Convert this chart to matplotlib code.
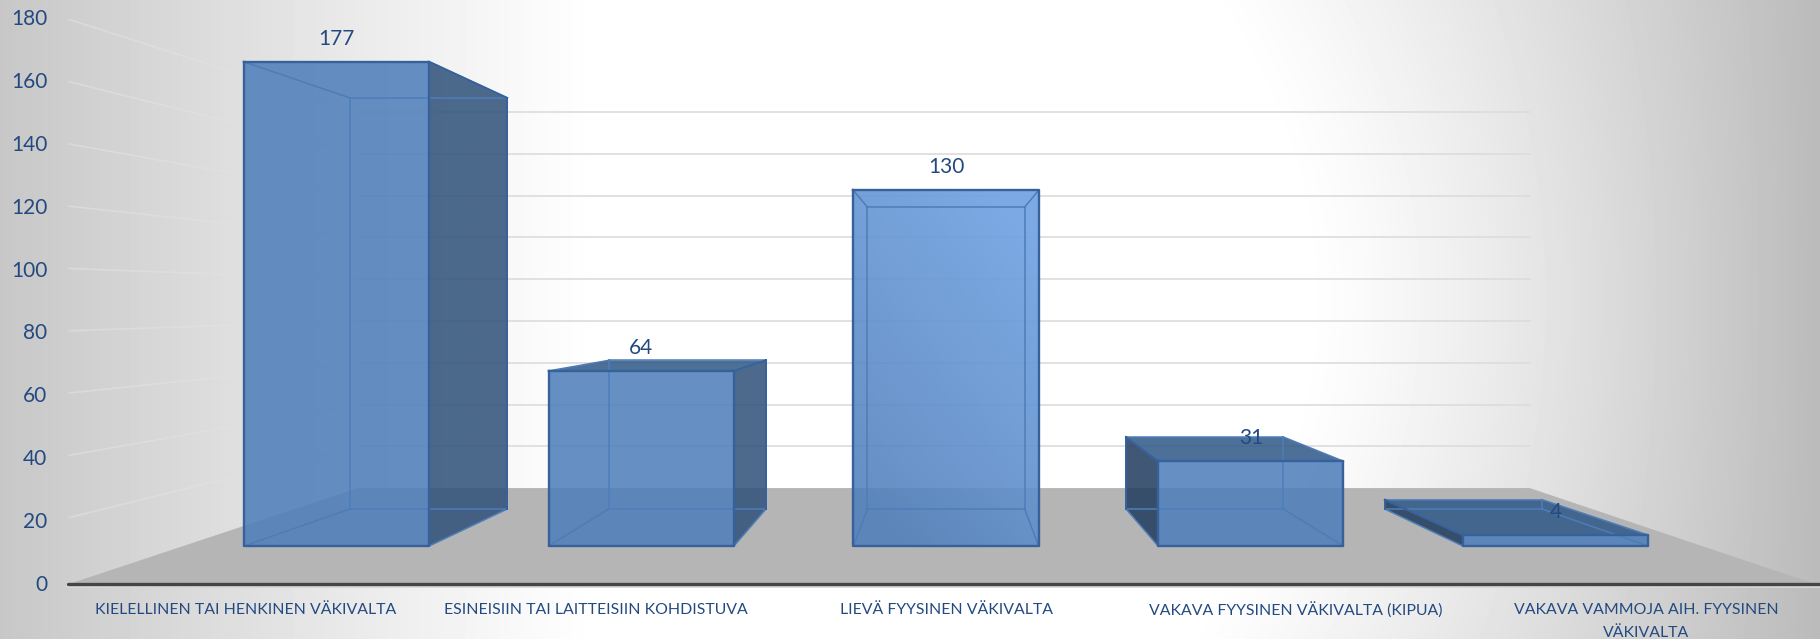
import numpy as np
import matplotlib
matplotlib.use('Agg')
import matplotlib.pyplot as plt
from matplotlib.patches import Polygon

categories = ['KIELELLINEN TAI HENKINEN VÄKIVALTA',
              'ESINEISIIN TAI LAITTEISIIN KOHDISTUVA',
              'LIEVÄ FYYSINEN VÄKIVALTA',
              'VAKAVA FYYSINEN VÄKIVALTA (KIPUA)',
              'VAKAVA VAMMOJA AIH. FYYSINEN\nVÄKIVALTA']
values = [177, 64, 130, 31, 4]
y_ticks = [0, 20, 40, 60, 80, 100, 120, 140, 160, 180]

# perspective setup, all in pixels of the picture
W, H = 1820, 639
VX, VY = 946, 301          # vanishing point
FLOOR_Y = 584
PX_PER_UNIT = 3.16
CAT_STEP = 352
LABEL_STEP = 350
BAR_WIDTH = 214 / 352
S_CHART_BACK = 0.661
S_BAR_FRONT, S_BAR_BACK = 0.866, 0.735

TEXT = '#234a80'
EDGE = '#36619a'
INNER = '#4d7db9'
FRONT = '#4f7fbb'
SIDE = '#32547b'
TOP_DARK = '#325b8a'
LEFT_DARK = '#243f60'
ALPHA = 0.87


def project(cat, value, s):
    wx = VX + (cat - 2) * CAT_STEP
    wy = FLOOR_Y - value * PX_PER_UNIT
    return VX + (wx - VX) * s, VY + (wy - VY) * s


def background():
    yy, xx = np.mgrid[0:H, 0:W]
    left = 0.22 * np.clip((600 - xx) / 600.0, 0, 1) ** 1.1
    edge = 1300 - 0.0011 * (yy - 300.0) ** 2
    right = 0.27 * np.clip((xx - edge) / (W - edge), 0, 1) ** 1.25
    return 1 - left - right


plt.rcParams['font.family'] = ['Lato', 'DejaVu Sans']
fig = plt.figure(figsize=(W / 100, H / 100), dpi=100)
ax = fig.add_axes([0, 0, 1, 1])
ax.set_xlim(0, W)
ax.set_ylim(H, 0)
ax.axis('off')
ax.imshow(background(), cmap='gray', vmin=0, vmax=1, extent=(0, W, H, 0),
          aspect='auto', zorder=0)

# floor
cl_back = 2 - 890 / CAT_STEP
cr_back = 2 + 883 / CAT_STEP
floor = [project(2 - 877 / CAT_STEP, 0, 1), project(2 + 869 / CAT_STEP, 0, 1),
         project(cr_back, 0, S_CHART_BACK), project(cl_back, 0, S_CHART_BACK)]
ax.add_patch(Polygon(floor, closed=True, fc='#b5b5b5', ec='none', zorder=1))

# gridlines, back wall and left wall
for t in y_ticks[1:]:
    x0, y0 = project(cl_back, t, S_CHART_BACK)
    x1, y1 = project(cr_back, t, S_CHART_BACK)
    ax.plot([x0, x1], [y0, y1], color='#dcdcdc', lw=1.2, zorder=2)
    x2, y2 = project(cl_back, t, 0.985)
    ax.plot([x0, x2], [y0, y2], color='#e2e2e2', lw=1.2, alpha=0.6, zorder=2)

ax.plot([68, W], [FLOOR_Y + 1, FLOOR_Y + 1], color='#d8d8d8', lw=3.4,
        solid_capstyle='round', zorder=3)
ax.plot([68, W], [FLOOR_Y - 0.5, FLOOR_Y - 0.5], color='#454545', lw=2.4,
        solid_capstyle='round', zorder=3)

# bars
for i, val in enumerate(values):
    c0, c1 = i - BAR_WIDTH / 2, i + BAR_WIDTH / 2
    fbl, fbr = project(c0, 0, S_BAR_FRONT), project(c1, 0, S_BAR_FRONT)
    ftl, ftr = project(c0, val, S_BAR_FRONT), project(c1, val, S_BAR_FRONT)
    bbl, bbr = project(c0, 0, S_BAR_BACK), project(c1, 0, S_BAR_BACK)
    btl, btr = project(c0, val, S_BAR_BACK), project(c1, val, S_BAR_BACK)

    # side that can be seen depends on which side of the vanishing point we are
    if fbr[0] < VX:
        side = [fbr, ftr, btr, bbr]
        side_color = SIDE
    elif fbl[0] > VX:
        side = [fbl, ftl, btl, bbl]
        side_color = LEFT_DARK
    else:
        side = None

    # a top above the horizon is seen from below, inside the front face
    if ftl[1] >= VY:
        ax.add_patch(Polygon([ftl, ftr, btr, btl], closed=True, fc=TOP_DARK,
                             ec='none', alpha=ALPHA, zorder=4))
    if side is not None:
        ax.add_patch(Polygon(side, closed=True, fc=side_color, ec='none',
                             alpha=ALPHA, zorder=4))
    front = Polygon([fbl, fbr, ftr, ftl], closed=True, fc=FRONT, ec='none',
                    alpha=ALPHA, zorder=5)
    ax.add_patch(front)
    if i == 2:
        # light from the upper right corner
        gx, gy = np.meshgrid(np.linspace(0, 1, 50), np.linspace(1, 0, 150))
        glow = np.zeros((150, 50, 4))
        glow[..., 0], glow[..., 1], glow[..., 2] = 0.55, 0.74, 0.98
        glow[..., 3] = 0.6 * np.clip(0.45 * gx + 0.75 * gy - 0.1, 0, 1)
        im = ax.imshow(glow, extent=(ftl[0], ftr[0], fbl[1], ftl[1]),
                       aspect='auto', zorder=5.5)
        im.set_clip_path(front)
        ax.set_xlim(0, W)
        ax.set_ylim(H, 0)

    # hidden edges
    for a, b in [(bbl, bbr), (btl, btr), (bbl, btl), (bbr, btr),
                 (fbl, bbl), (fbr, bbr), (ftl, btl), (ftr, btr)]:
        ax.plot([a[0], b[0]], [a[1], b[1]], color=INNER, lw=1.1, zorder=6)
    # edges in front
    if side is not None:
        for a, b in zip(side, side[1:]):
            ax.plot([a[0], b[0]], [a[1], b[1]], color=EDGE, lw=1.4, zorder=7)
    ax.plot([ftl[0], ftr[0], fbr[0], fbl[0], ftl[0]],
            [ftl[1], ftr[1], fbr[1], fbl[1], ftl[1]], color=EDGE, lw=1.7, zorder=7)

    lx, ly = project(i, val, S_BAR_FRONT)
    ax.text(lx, ly - 23, str(val), ha='center', va='center', fontsize=15,
            color=TEXT, zorder=8)

for t in y_ticks:
    ax.text(47.5, 585.2 - t * 3.147, str(t), ha='right', va='center',
            fontsize=15, color=TEXT, zorder=8)

for i, name in enumerate(categories):
    ax.text(VX + (i - 2) * LABEL_STEP, 603, name, ha='center', va='top',
            fontsize=11.4, color=TEXT, linespacing=1.8, zorder=8)

fig.savefig('out.png', dpi=100)
